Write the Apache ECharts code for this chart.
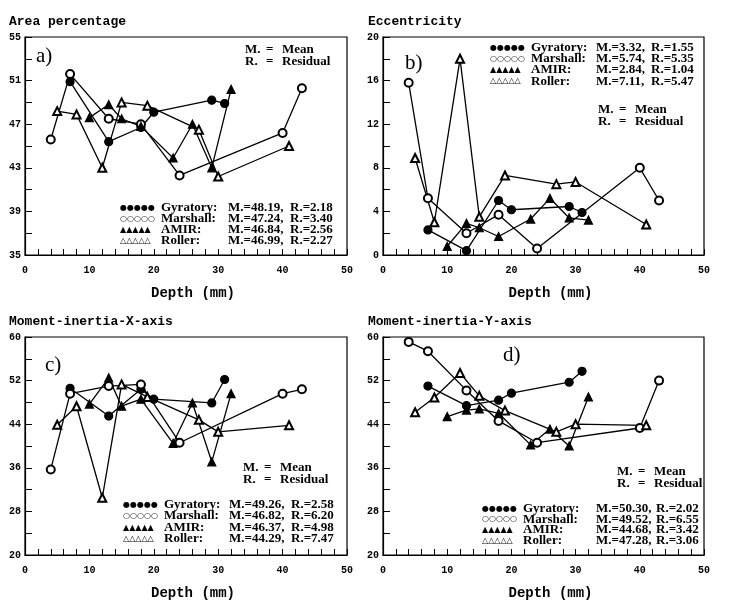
<!DOCTYPE html>
<html>
<head>
<meta charset="utf-8">
<script src="https://cdn.jsdelivr.net/npm/echarts@6/dist/echarts.min.js"></script>
<style>
html, body { margin: 0; padding: 0; background: #fff; }
#chart { width: 742px; height: 605px; }
</style>
</head>
<body>
<div id="chart"></div>
<script>
// depths (mm) per compaction method
const depthGyratory = [7, 13, 18, 20, 29, 31];
const depthMarshall = [4, 7, 13, 18, 24, 40, 43];
const depthAmir = [10, 13, 15, 18, 23, 26, 29, 32];
const depthRoller = [5, 8, 12, 15, 19, 27, 30, 41];

// a) area percentage
const areaGyratory = [50.9, 45.4, 46.7, 48.1, 49.2, 48.9];
const areaMarshall = [45.6, 51.6, 47.5, 47.0, 42.3, 46.2, 50.3];
const areaAmir = [47.6, 48.8, 47.5, 46.8, 43.9, 47.0, 43.0, 50.2];
const areaRoller = [48.2, 47.9, 43.0, 49.0, 48.7, 46.5, 42.2, 45.0];

// b) eccentricity
const eccGyratory = [2.3, 0.4, 5.0, 4.15, 4.45, 3.9];
const eccMarshall = [15.8, 5.2, 2.0, 3.7, 0.6, 8.0, 5.0];
const eccAmir = [0.8, 2.9, 2.5, 1.7, 3.3, 5.2, 3.4, 3.2];
const eccRoller = [8.9, 3.0, 18.0, 3.5, 7.3, 6.5, 6.7, 2.8];

// c) moment of inertia, x axis
const mxGyratory = [50.6, 45.5, 50.4, 48.6, 47.9, 52.2];
const mxMarshall = [35.7, 49.6, 51.0, 51.3, 40.6, 49.6, 50.4];
const mxAmir = [47.7, 52.5, 47.3, 48.6, 40.5, 47.9, 37.1, 49.6];
const mxRoller = [43.9, 47.3, 30.5, 51.3, 49.0, 44.8, 42.6, 43.8];

// d) moment of inertia, y axis
const myGyratory = [51.0, 47.4, 48.4, 49.7, 51.7, 53.7];
const myMarshall = [59.1, 57.4, 50.2, 44.6, 40.6, 43.3, 52.0];
const myAmir = [45.4, 46.6, 46.8, 46.0, 40.2, 43.1, 40.0, 49.0];
const myRoller = [46.2, 48.9, 53.4, 49.2, 46.5, 42.6, 44.0, 43.8];

// legend stats: [mean, residual]
const methodNames = ['Gyratory:', 'Marshall:', 'AMIR:', 'Roller:'];
const statsA = [['48.19', '2.18'], ['47.24', '3.40'], ['46.84', '2.56'], ['46.99', '2.27']];
const statsB = [['3.32', '1.55'], ['5.74', '5.35'], ['2.84', '1.04'], ['7.11', '5.47']];
const statsC = [['49.26', '2.58'], ['46.82', '6.20'], ['46.37', '4.98'], ['44.29', '7.47']];
const statsD = [['50.30', '2.02'], ['49.52', '6.55'], ['44.68', '3.42'], ['47.28', '3.06']];

const panelTitles = ['Area percentage', 'Eccentricity', 'Moment-inertia-X-axis', 'Moment-inertia-Y-axis'];
const panelLetters = ['a)', 'b)', 'c)', 'd)'];
const yMin = [35, 0, 20, 20];
const yMax = [55, 20, 60, 60];
const yStep = [4, 4, 8, 8];

const chart = echarts.init(document.getElementById('chart'));

const grids = [
    { left: 25, top: 37, width: 322, height: 218 },
    { left: 383, top: 37, width: 321, height: 218 },
    { left: 25, top: 337, width: 322, height: 218 },
    { left: 383, top: 337, width: 321, height: 218 }
];

const monoBold = { fontFamily: 'Liberation Mono', fontWeight: 'bold', color: '#000' };

function makeSeries(name, gi, xs, ys, symbol) {
    return {
        type: 'line',
        name: name,
        xAxisIndex: gi,
        yAxisIndex: gi,
        data: xs.map((x, i) => [x, ys[i]]),
        symbol: symbol,
        symbolSize: 8,
        lineStyle: { color: '#000', width: 1.3 },
        itemStyle: { color: '#000', borderColor: '#000', borderWidth: 1.2 },
        emphasis: { disabled: true }
    };
}

const panelData = [
    [areaGyratory, areaMarshall, areaAmir, areaRoller],
    [eccGyratory, eccMarshall, eccAmir, eccRoller],
    [mxGyratory, mxMarshall, mxAmir, mxRoller],
    [myGyratory, myMarshall, myAmir, myRoller]
];
const depths = [depthGyratory, depthMarshall, depthAmir, depthRoller];
const symbols = ['circle', 'emptyCircle', 'triangle', 'emptyTriangle'];

const series = [];
panelData.forEach((set, gi) => {
    set.forEach((vals, k) => {
        series.push(makeSeries(methodNames[k], gi, depths[k], vals, symbols[k]));
    });
});

const xAxis = grids.map((g, i) => ({
    gridIndex: i,
    type: 'value',
    min: 0,
    max: 50,
    interval: 10,
    axisLine: { onZero: false, lineStyle: { color: '#000', width: 1.2 } },
    axisTick: { inside: true, length: 6, lineStyle: { color: '#000' } },
    minorTick: { show: true, splitNumber: 5, length: 6, lineStyle: { color: '#000' } },
    splitLine: { show: false },
    axisLabel: Object.assign({ fontSize: 10, margin: 10 }, monoBold),
    name: 'Depth (mm)',
    nameLocation: 'middle',
    nameGap: 31,
    nameTextStyle: Object.assign({ fontSize: 14, padding: [0, 0, 0, 14] }, monoBold)
}));

const yAxis = grids.map((g, i) => ({
    gridIndex: i,
    type: 'value',
    min: yMin[i],
    max: yMax[i],
    interval: yStep[i],
    axisLine: { onZero: false, lineStyle: { color: '#000', width: 1.2 } },
    axisTick: { inside: true, length: 7, lineStyle: { color: '#000' } },
    minorTick: { show: true, splitNumber: 2, length: 7, lineStyle: { color: '#000' } },
    splitLine: { show: false },
    axisLabel: Object.assign({ fontSize: 10, margin: 4 }, monoBold)
}));

const titlePos = [[9, 15], [368, 15], [9, 315], [368, 315]];
const title = panelTitles.map((t, i) => ({
    text: t,
    left: titlePos[i][0],
    top: titlePos[i][1],
    padding: 0,
    textStyle: Object.assign({ fontSize: 13 }, monoBold)
}));

// legend blocks: [x, y of first row, row gap, name width, mean width]
const legendLayout = [
    [120, 208, 11, 67, 62],
    [490, 48, 11.3, 65, 55],
    [123, 505, 11.5, 65, 62],
    [482, 509, 10.8, 73, 60]
];
const legendStats = [statsA, statsB, statsC, statsD];
const markerText = ['●●●●●', '○○○○○', '▲▲▲▲▲', '△△△△△'];

const graphic = [];
legendStats.forEach((stats, p) => {
    const [lx, ly, gap, nw, mw] = legendLayout[p];
    stats.forEach((s, k) => {
        graphic.push({
            type: 'text',
            left: lx,
            top: ly + gap * k - 7,
            style: {
                text: '{s|' + markerText[k] + '}{n|' + methodNames[k] + '}{m|M.=' + s[0] + ',}{r|R.=' + s[1] + '}',
                rich: {
                    s: { width: 41, fontSize: 8, fontFamily: 'DejaVu Sans', fill: '#000' },
                    n: { width: nw, fontSize: 13, fontFamily: 'Liberation Serif', fontWeight: 'bold', fill: '#000' },
                    m: { width: mw, fontSize: 13, fontFamily: 'Liberation Serif', fontWeight: 'bold', fill: '#000' },
                    r: { fontSize: 13, fontFamily: 'Liberation Serif', fontWeight: 'bold', fill: '#000' }
                }
            }
        });
    });
});

// "M. = Mean / R. = Residual" notes
const notePos = [[245, 43], [598, 103], [243, 461], [617, 465]];
notePos.forEach(([nx, ny]) => {
    graphic.push({
        type: 'text',
        left: nx,
        top: ny,
        style: {
            text: '{k|M.}{e|=}{v|Mean}\n{k|R.}{e|=}{v|Residual}',
            rich: {
                k: { width: 21, fontSize: 13, lineHeight: 12, fontFamily: 'Liberation Serif', fontWeight: 'bold', fill: '#000' },
                e: { width: 16, fontSize: 13, lineHeight: 12, fontFamily: 'Liberation Serif', fontWeight: 'bold', fill: '#000' },
                v: { fontSize: 13, lineHeight: 12, fontFamily: 'Liberation Serif', fontWeight: 'bold', fill: '#000' }
            }
        }
    });
});

const letterPos = [[36, 46], [405, 53], [45, 355], [503, 345]];
letterPos.forEach(([lx, ly], i) => {
    graphic.push({
        type: 'text',
        left: lx,
        top: ly,
        style: {
            text: panelLetters[i],
            font: '21px "Liberation Serif"',
            fill: '#000'
        }
    });
});

chart.setOption({
    animation: false,
    backgroundColor: '#fff',
    title: title,
    grid: grids.map(g => Object.assign({ show: true, borderColor: '#000', borderWidth: 1.2, backgroundColor: 'transparent' }, g)),
    xAxis: xAxis,
    yAxis: yAxis,
    series: series,
    graphic: graphic
});
</script>
</body>
</html>
